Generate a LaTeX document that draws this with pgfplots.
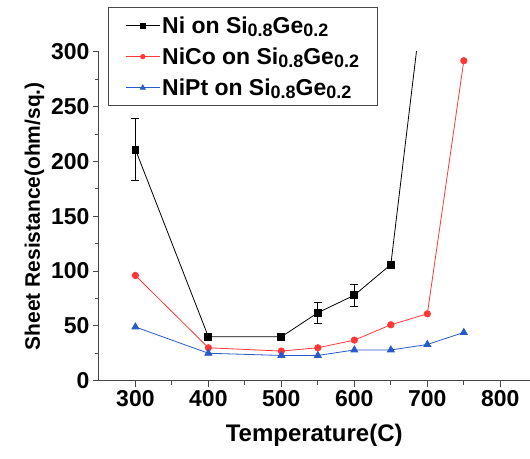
\documentclass[border=0pt]{standalone}
\usepackage{fontspec}
\setmainfont{Liberation Sans}
\usepackage{pgfplots}
\pgfplotsset{compat=1.18}
\definecolor{myred}{RGB}{255,55,55}
\definecolor{myblue}{RGB}{40,90,200}
\definecolor{axgray}{RGB}{70,70,70}
\newcommand{\sub}[1]{\raisebox{-0.3ex}{\fontsize{18}{20}\selectfont #1}}
\newcommand{\sige}{Si\sub{0.8}Ge\sub{0.2}}
\begin{document}
\begin{tikzpicture}
\begin{axis}[
  scale only axis, width=431pt, height=329pt,
  xmin=250, xmax=840, ymin=0, ymax=300,
  axis lines*=left,
  axis line style={draw=axgray, line width=1pt},
  xtick={300,400,...,800}, ytick={0,50,...,300},
  minor x tick num=1, minor y tick num=1,
  tick align=outside, major tick length=6pt, minor tick length=4pt,
  every tick/.style={axgray, line width=1pt},
  /pgf/number format/assume math mode=true,
  ticklabel style={font=\fontsize{23}{26}\selectfont\bfseries},
  xlabel={Temperature(C)}, ylabel={Sheet Resistance(ohm/sq.)},
  xlabel style={font=\fontsize{24}{28}\selectfont\bfseries, yshift=-11pt},
  ylabel style={font=\fontsize{21}{25}\selectfont\bfseries},
  legend style={at={(0.021,1.137)}, anchor=north west, draw=axgray, line width=1pt,
    font=\fontsize{23}{27}\selectfont\bfseries, row sep=9pt,
    inner xsep=17pt, inner ysep=7pt},
  legend cell align=left,
  legend image code/.code={\draw[mark repeat=2,mark phase=2, mark options={scale=0.7}] plot coordinates {(0pt,0pt) (17pt,0pt) (34pt,0pt)};},
]
\addplot[black, only marks, mark=none, forget plot,
  error bars/.cd, y dir=both, y explicit,
  error bar style={line width=0.8pt, black},
  error mark options={rotate=90, mark size=4pt, line width=0.8pt, black}]
  coordinates {(300,211) +- (0,28) (550,62) +- (0,9.5) (600,78) +- (0,10)};
\addplot[black, line width=0.8pt, mark=square*, mark size=3.5pt]
  coordinates {(300,211) (400,40) (500,40) (550,62) (600,78) (650,106) (700,383)};
\addlegendentry{Ni on \sige}
\addplot[myred, line width=0.8pt, mark=*, mark size=3.2pt]
  coordinates {(300,96) (400,30) (500,27) (550,30) (600,37) (650,51) (700,61) (750,292)};
\addlegendentry{NiCo on \sige}
\addplot[myblue, line width=0.8pt, mark=triangle*, mark size=4pt]
  coordinates {(300,49) (400,25) (500,23) (550,23) (600,28) (650,28) (700,33) (750,44)};
\addlegendentry{NiPt on \sige}
\end{axis}
\path (current axis.south west) ++(-99pt,-78pt) rectangle ++(530pt,459pt);
\end{tikzpicture}
\end{document}
